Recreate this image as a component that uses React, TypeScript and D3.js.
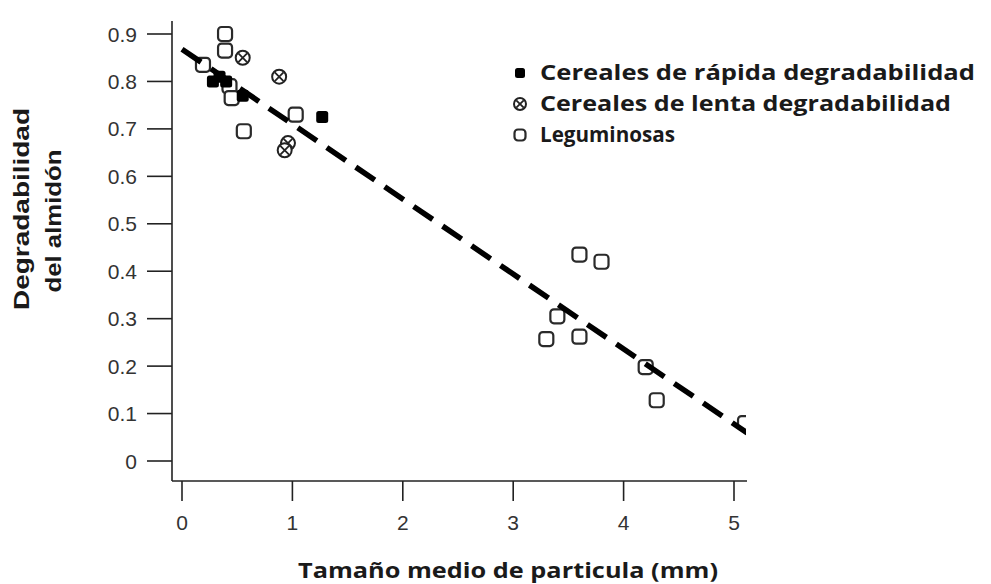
import React, { useEffect, useRef } from "react";
import * as d3 from "d3";

const WIDTH = 991;
const HEIGHT = 584;

// tick values
const xTicks = [0, 1, 2, 3, 4, 5];
const yTicks = [0, 0.1, 0.2, 0.3, 0.4, 0.5, 0.6, 0.7, 0.8, 0.9];

// Cereales de rápida degradabilidad
const rapidaX = [0.28, 0.34, 0.4, 0.55, 1.27];
const rapidaY = [0.8, 0.81, 0.8, 0.77, 0.725];

// Cereales de lenta degradabilidad
const lentaX = [0.55, 0.88, 0.96, 0.93];
const lentaY = [0.85, 0.81, 0.67, 0.655];

// Leguminosas
const legumX = [0.19, 0.39, 0.39, 0.43, 0.45, 0.56, 1.03, 3.6, 3.8, 3.4, 3.3, 3.6, 4.2, 4.3, 5.1];
const legumY = [0.835, 0.9, 0.865, 0.79, 0.765, 0.695, 0.73, 0.435, 0.42, 0.305, 0.257, 0.262, 0.198, 0.128, 0.08];

// regression line
const fitIntercept = 0.868;
const fitSlope = -0.158;
const fitRange = [0, 5.12];

const legendLabels = [
  "Cereales de rápida degradabilidad",
  "Cereales de lenta degradabilidad",
  "Leguminosas",
];

const TEXT = "#1a1a1a";

const App: React.FC = () => {
  const ref = useRef<SVGSVGElement>(null);

  useEffect(() => {
    const container = ref.current;
    if (!container) return;

    const svg = d3.select(container);
    svg.selectAll("*").remove();

    const x = d3.scaleLinear().domain([0, 5]).range([182, 734]);
    const y = d3.scaleLinear().domain([0, 0.9]).range([461, 34]);

    // axes lines (offset style)
    const axisX0 = 172;
    const axisY0 = 481;

    svg
      .append("defs")
      .append("clipPath")
      .attr("id", "plot-clip")
      .append("rect")
      .attr("x", 0)
      .attr("y", 0)
      .attr("width", 746)
      .attr("height", HEIGHT);

    svg
      .append("line")
      .attr("x1", axisX0)
      .attr("x2", axisX0)
      .attr("y1", 21)
      .attr("y2", axisY0)
      .attr("stroke", "#222")
      .attr("stroke-width", 1.6);

    svg
      .append("line")
      .attr("x1", axisX0)
      .attr("x2", 747)
      .attr("y1", axisY0)
      .attr("y2", axisY0)
      .attr("stroke", "#222")
      .attr("stroke-width", 1.6);

    // y ticks
    const yt = svg.append("g");
    yt.selectAll("line")
      .data(yTicks)
      .enter()
      .append("line")
      .attr("x1", 147)
      .attr("x2", axisX0)
      .attr("y1", (d) => y(d))
      .attr("y2", (d) => y(d))
      .attr("stroke", "#222")
      .attr("stroke-width", 1.6);
    yt.selectAll("text")
      .data(yTicks)
      .enter()
      .append("text")
      .attr("x", 137)
      .attr("y", (d) => y(d) + 7.5)
      .attr("text-anchor", "end")
      .attr("font-family", "Liberation Sans, Arial, sans-serif")
      .attr("font-size", 21)
      .attr("fill", "#333")
      .text((d) => (d === 0 ? "0" : d3.format(".1f")(d)));

    // x ticks
    const xt = svg.append("g");
    xt.selectAll("line")
      .data(xTicks)
      .enter()
      .append("line")
      .attr("x1", (d) => x(d))
      .attr("x2", (d) => x(d))
      .attr("y1", axisY0)
      .attr("y2", 501)
      .attr("stroke", "#222")
      .attr("stroke-width", 1.6);
    xt.selectAll("text")
      .data(xTicks)
      .enter()
      .append("text")
      .attr("x", (d) => x(d))
      .attr("y", 530)
      .attr("text-anchor", "middle")
      .attr("font-family", "Liberation Sans, Arial, sans-serif")
      .attr("font-size", 21)
      .attr("fill", "#333")
      .text((d) => String(d));

    // markers
    const drawOpen = (g: any, cx: number, cy: number, s: number) => {
      g.append("rect")
        .attr("x", cx - s / 2)
        .attr("y", cy - s / 2)
        .attr("width", s)
        .attr("height", s)
        .attr("rx", 3.5)
        .attr("fill", "#fff")
        .attr("stroke", "#2a2a2a")
        .attr("stroke-width", 2.2);
    };
    const drawFilled = (g: any, cx: number, cy: number, s: number) => {
      g.append("rect")
        .attr("x", cx - s / 2)
        .attr("y", cy - s / 2)
        .attr("width", s)
        .attr("height", s)
        .attr("rx", 2.5)
        .attr("fill", "#000");
    };
    const drawCross = (g: any, cx: number, cy: number, r: number) => {
      g.append("circle")
        .attr("cx", cx)
        .attr("cy", cy)
        .attr("r", r)
        .attr("fill", "#fff")
        .attr("stroke", "#222")
        .attr("stroke-width", 2);
      const k = r * 0.62;
      g.append("path")
        .attr("d", `M${cx - k},${cy - k}L${cx + k},${cy + k}M${cx - k},${cy + k}L${cx + k},${cy - k}`)
        .attr("stroke", "#222")
        .attr("stroke-width", 1.8);
    };

    const plot = svg.append("g").attr("clip-path", "url(#plot-clip)");

    const pts = plot.append("g");
    legumX.forEach((v, i) => drawOpen(pts, x(v), y(legumY[i]), 14));
    lentaX.forEach((v, i) => drawCross(pts, x(v), y(lentaY[i]), 7));
    rapidaX.forEach((v, i) => drawFilled(pts, x(v), y(rapidaY[i]), 12));

    // regression dashed line
    const fitLine = d3
      .line<number>()
      .x((d) => x(d))
      .y((d) => y(fitIntercept + fitSlope * d));
    plot
      .append("path")
      .attr("d", fitLine(fitRange))
      .attr("fill", "none")
      .attr("stroke", "#000")
      .attr("stroke-width", 5.5)
      .attr("stroke-dasharray", "23 12");

    // legend
    const lg = svg.append("g");
    const rows = [73, 104, 135];
    drawFilled(lg, 520, rows[0], 10);
    drawCross(lg, 520, rows[1], 6);
    drawOpen(lg, 520, rows[2], 11);
    const legendWidths = [435, 411, 135];
    lg.selectAll("text")
      .data(legendLabels)
      .enter()
      .append("text")
      .attr("x", 540)
      .attr("y", (d, i) => rows[i] + 7)
      .attr("font-family", "Open Sans, sans-serif")
      .attr("font-weight", "bold")
      .attr("font-size", 21)
      .attr("fill", TEXT)
      .attr("textLength", (d, i) => legendWidths[i])
      .attr("lengthAdjust", "spacingAndGlyphs")
      .text((d) => d);

    // axis titles
    svg
      .append("text")
      .attr("x", 508)
      .attr("y", 578)
      .attr("text-anchor", "middle")
      .attr("font-family", "Open Sans, sans-serif")
      .attr("font-weight", "bold")
      .attr("font-size", 21)
      .attr("fill", TEXT)
      .attr("textLength", 420)
      .attr("lengthAdjust", "spacingAndGlyphs")
      .text("Tamaño medio de particula (mm)");

    const yTitle = svg
      .append("text")
      .attr("transform", "translate(0,209) rotate(-90)")
      .attr("text-anchor", "middle")
      .attr("font-family", "Liberation Sans, Arial, sans-serif")
      .attr("font-weight", "bold")
      .attr("font-size", 22)
      .attr("fill", TEXT);
    yTitle
      .append("tspan")
      .attr("x", 0)
      .attr("y", 29)
      .attr("textLength", 202)
      .attr("lengthAdjust", "spacingAndGlyphs")
      .text("Degradabilidad");
    yTitle
      .append("tspan")
      .attr("x", -12)
      .attr("y", 61)
      .attr("textLength", 143)
      .attr("lengthAdjust", "spacingAndGlyphs")
      .text("del almidón");
  }, [ref]);

  return (
    <svg
      ref={ref}
      width={WIDTH}
      height={HEIGHT}
      style={{ position: "absolute", left: 0, top: 0, background: "#fff" }}
    />
  );
};

export default App;
